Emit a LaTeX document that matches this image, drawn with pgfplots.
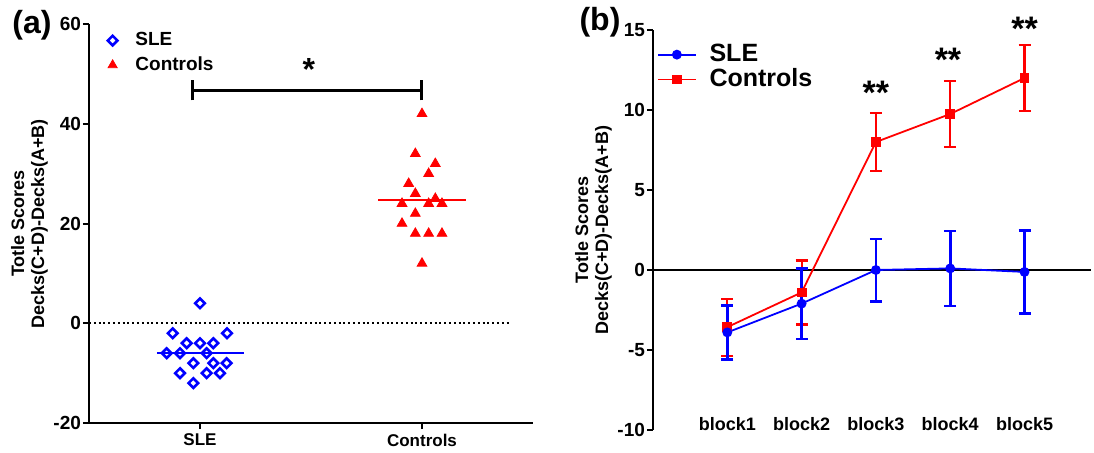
\documentclass[border=0pt]{standalone}
\usepackage{fontspec}
\setmainfont{Liberation Sans}
\usepackage{pgfplots}
\pgfplotsset{compat=1.18}
\definecolor{sleblue}{RGB}{0,0,255}
\definecolor{ctlred}{RGB}{255,0,0}
\begin{document}
\begin{tikzpicture}
\useasboundingbox (0,0) rectangle (547pt,226pt);
\node[font=\fontsize{16}{18}\selectfont\bfseries] at (16pt,213.5pt) {(a)};
\node[font=\fontsize{16}{18}\selectfont\bfseries] at (300pt,215pt) {(b)};
% ---------------- panel (a)
\begin{axis}[
  at={(44.5pt,14.5pt)}, anchor=south west,
  scale only axis, width=222pt, height=199.5pt,
  xmin=0.5, xmax=2.5, ymin=-20, ymax=60,
  axis x line*=bottom, axis y line*=left,
  axis line style={-, line width=1pt, black},
  xtick={1,2}, xticklabels={SLE,Controls},
  ytick={-20,0,20,40,60},
  tick style={black, line width=1pt}, major tick length=3pt, tick align=outside,
  /pgf/number format/assume math mode=true,
  yticklabel style={font=\fontsize{9.5}{10}\selectfont\bfseries, xshift=2.5pt},
  xticklabel style={font=\fontsize{8.5}{10}\selectfont\bfseries, yshift=1pt},
  ylabel={Totle Scores\\Decks(C+D)-Decks(A+B)},
  ylabel style={align=center, font=\fontsize{9}{10}\selectfont\bfseries},
  ylabel shift=-4pt,
  clip=false,
  legend cell align=left,
  legend style={at={(axis description cs:0.028,1.0)}, anchor=north west, draw=none, fill=none,
    font=\fontsize{9.5}{11}\selectfont\bfseries, row sep=0pt},
]
\addlegendimage{only marks, mark=square, mark size=1.7pt, sleblue, line width=1.3pt, mark options={rotate=45}}
\addlegendentry{\hspace{7pt}SLE}
\addlegendimage{only marks, mark=triangle*, mark size=2.6pt, ctlred}
\addlegendentry{\hspace{7pt}Controls}
% zero dotted line
\addplot[forget plot, black, line width=1pt, dash pattern=on 1pt off 1.4pt] coordinates {(0.5,0) (2.4,0)};
% SLE points
\addplot[forget plot, only marks, mark=square, mark size=1.7pt, sleblue, line width=1.3pt, mark options={rotate=45}] coordinates {
(1.00,4)
(0.877,-2) (1.122,-2)
(0.94,-4) (1.00,-4) (1.06,-4)
(0.85,-6) (0.91,-6) (1.03,-6)
(0.97,-8) (1.06,-8) (1.12,-8)
(0.91,-10) (1.03,-10) (1.09,-10)
(0.97,-12)
};
\addplot[forget plot, sleblue, line width=1pt] coordinates {(0.806,-6) (1.2,-6)};
% Controls points
\addplot[forget plot, only marks, mark=triangle*, mark size=2.8pt, ctlred] coordinates {
(2.00,42)
(1.97,34)
(2.06,32)
(2.03,30)
(1.94,28)
(1.97,26)
(2.06,25)
(1.91,24) (2.03,24) (2.09,24)
(1.97,22)
(1.91,20)
(1.97,18) (2.03,18) (2.09,18)
(2.00,12)
};
\addplot[forget plot, ctlred, line width=1pt] coordinates {(1.803,24.8) (2.2,24.8)};
% significance bar
\addplot[forget plot, black, line width=1.5pt] coordinates {(0.965,46.7) (2.0,46.7)};
\addplot[forget plot, black, line width=1.5pt] coordinates {(0.965,44.7) (0.965,48.7)};
\addplot[forget plot, black, line width=1.5pt] coordinates {(2.0,44.7) (2.0,48.7)};
\node[font=\fontsize{16}{18}\selectfont\bfseries] at (axis cs:1.49,50.8) {*};
\end{axis}
% ---------------- panel (b)
\begin{axis}[
  at={(326.5pt,11pt)}, anchor=south west,
  scale only axis, width=219.2pt, height=200pt,
  xmin=0, xmax=5.9, ymin=-10, ymax=15,
  axis x line*=bottom, axis y line*=left,
  axis line style={-, line width=1pt, black},
  x axis line style={draw=none},
  xtick={1,2,3,4,5}, xticklabels={block1,block2,block3,block4,block5},
  ytick={-10,-5,0,5,10,15},
  tick style={black, line width=1pt}, major tick length=3pt, tick align=outside,
  major x tick style={draw=none},
  /pgf/number format/assume math mode=true,
  yticklabel style={font=\fontsize{9.5}{10}\selectfont\bfseries, xshift=2.5pt},
  xticklabel style={font=\fontsize{9}{10}\selectfont\bfseries, yshift=13pt},
  ylabel={Totle Scores\\Decks(C+D)-Decks(A+B)},
  ylabel style={align=center, font=\fontsize{9}{10}\selectfont\bfseries},
  ylabel shift=-4pt,
  clip=false,
  legend cell align=left,
  legend style={at={(axis description cs:-0.005,0.985)}, anchor=north west, draw=none, fill=none,
    font=\fontsize{12.5}{14}\selectfont\bfseries, row sep=-2pt},
  legend image code/.code={\draw[mark repeat=2,mark phase=2] plot coordinates {(0cm,0cm) (0.33cm,0cm) (0.66cm,0cm)};},
]
\addlegendimage{sleblue, line width=0.9pt, mark=*, mark size=2pt}
\addlegendentry{\hspace{4.5pt}SLE}
\addlegendimage{ctlred, line width=0.9pt, mark=square*, mark size=2pt}
\addlegendentry{\hspace{4.5pt}Controls}
\addplot[forget plot, black, line width=0.9pt] coordinates {(0,0) (5.9,0)};
% Controls
\addplot[forget plot, ctlred, line width=0.9pt, mark=square*, mark size=2pt,
  error bars/.cd, y dir=both, y explicit,
  error bar style={line width=1.1pt, ctlred},
  error mark options={rotate=90, mark size=3pt, line width=1.1pt, ctlred}]
  coordinates {
  (1,-3.57) +- (0,1.78)
  (2,-1.4) +- (0,2.0)
  (3,8.0) +- (0,1.8)
  (4,9.75) +- (0,2.05)
  (5,12.0) +- (0,2.05)
};
% SLE
\addplot[forget plot, sleblue, line width=0.9pt, mark=*, mark size=2pt,
  error bars/.cd, y dir=both, y explicit,
  error bar style={line width=1.3pt, sleblue},
  error mark options={rotate=90, mark size=3pt, line width=1.3pt, sleblue}]
  coordinates {
  (1,-3.9) +- (0,1.7)
  (2,-2.1) +- (0,2.2)
  (3,0.0) +- (0,1.95)
  (4,0.1) +- (0,2.35)
  (5,-0.12) +- (0,2.6)
};
\node[font=\fontsize{17}{19}\selectfont\bfseries] at (axis cs:3,11.1) {**};
\node[font=\fontsize{17}{19}\selectfont\bfseries] at (axis cs:3.97,13.15) {**};
\node[font=\fontsize{17}{19}\selectfont\bfseries] at (axis cs:5,15.1) {**};
\end{axis}
\end{tikzpicture}
\end{document}
